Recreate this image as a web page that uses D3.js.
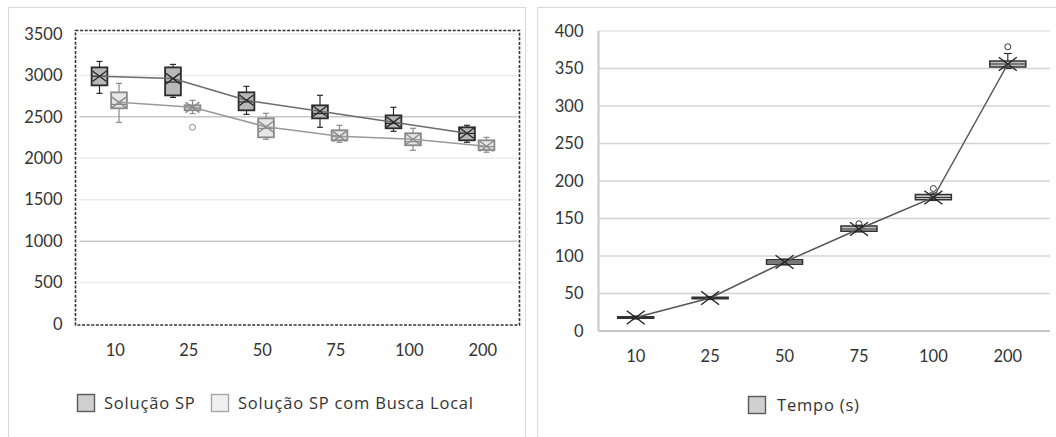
<!DOCTYPE html>
<html><head><meta charset="utf-8">
<script src="https://cdn.jsdelivr.net/npm/d3@7"></script>
<style>
body{margin:0;background:#fff;}
svg text{font-family:Lato,"Open Sans",sans-serif;fill:#333;}
svg text.leg{font-family:"Open Sans",Lato,sans-serif;letter-spacing:0.8px;}
</style></head>
<body><svg id="c" width="1056" height="437"></svg>
<script>
const categories = ["10","25","50","75","100","200"];
const leftTicks = [0,500,1000,1500,2000,2500,3000,3500];
const rightTicks = [0,50,100,150,200,250,300,350,400];
const seriesNames = ["Solução SP","Solução SP com Busca Local"];
const tempoName = "Tempo (s)";

// Solução SP
const spMin    = [2784,2735,2530,2374,2325,2193];
const spQ1     = [2880,2759,2579,2482,2362,2217];
const spMedian = [2990,2920,2680,2540,2420,2300];
const spQ3     = [3097,3097,2796,2639,2518,2374];
const spMax    = [3169,3133,2868,2760,2615,2398];
const spMean   = [2990,2962,2700,2567,2436,2302];
const spOut    = [[],[],[],[],[],[]];

// Solução SP com Busca Local
const blMin    = [2434,2540,2229,2193,2097,2073];
const blQ1     = [2603,2580,2253,2217,2157,2100];
const blMedian = [2650,2610,2360,2260,2200,2140];
const blQ3     = [2796,2640,2482,2338,2302,2217];
const blMax    = [2904,2700,2543,2398,2362,2253];
const blMean   = [2675,2615,2380,2265,2230,2145];
const blOut    = [[],[2374],[],[],[],[]];

// Tempo (s)
const tMin    = [16,42,88,132,174,350];
const tQ1     = [17,43,89,133,175,352];
const tMedian = [18,44,92,136,178,356];
const tQ3     = [19,45,95,140,182,360];
const tMax    = [20,46,96,141,184,370];
const tMean   = [18,44,92,136,178,356];
const tOut    = [[],[],[],[143],[190],[379]];

const svg = d3.select("#c");
svg.append("rect").attr("width",1056).attr("height",437).attr("fill","#fff");

svg.append("rect").attr("x",8.5).attr("y",7.5).attr("width",517).attr("height",440)
  .attr("fill","none").attr("stroke","#d9d9d9");
svg.append("rect").attr("x",537.5).attr("y",7.5).attr("width",530).attr("height",440)
  .attr("fill","none").attr("stroke","#d9d9d9");

function build(sr, ser){ return categories.map((c,i)=>({cat:c,min:sr[0][i],q1:sr[1][i],med:sr[2][i],q3:sr[3][i],max:sr[4][i],mean:sr[5][i],out:sr[6][i],ser})); }

function drawBoxes(g, x, y, data, off, bw, st){
  const gg = g.append("g");
  data.forEach(d=>{
    const cx = x(d.cat)+x.bandwidth()/2+off;
    gg.append("line").attr("x1",cx).attr("x2",cx).attr("y1",y(d.max)).attr("y2",y(d.q3)).attr("stroke",st.stroke).attr("stroke-width",1.2);
    gg.append("line").attr("x1",cx).attr("x2",cx).attr("y1",y(d.q1)).attr("y2",y(d.min)).attr("stroke",st.stroke).attr("stroke-width",1.2);
    [d.max,d.min].forEach(v=>gg.append("line").attr("x1",cx-st.cap).attr("x2",cx+st.cap).attr("y1",y(v)).attr("y2",y(v)).attr("stroke",st.stroke).attr("stroke-width",1.2));
    gg.append("rect").attr("x",cx-bw/2).attr("width",bw).attr("y",y(d.q3)).attr("height",Math.max(1,y(d.q1)-y(d.q3)))
      .attr("fill",st.fill).attr("stroke",st.stroke).attr("stroke-width",st.sw);
    gg.append("line").attr("x1",cx-bw/2).attr("x2",cx+bw/2).attr("y1",y(d.med)).attr("y2",y(d.med)).attr("stroke",st.stroke).attr("stroke-width",1.2);
    d.out.forEach(v=>gg.append("circle").attr("cx",cx).attr("cy",y(v)).attr("r",3).attr("fill","none").attr("stroke",st.stroke).attr("stroke-width",1));
  });
  return gg;
}
function drawMeans(g, x, y, data, off, st){
  const line = d3.line().x(d=>x(d.cat)+x.bandwidth()/2+off).y(d=>y(d.mean));
  g.append("path").datum(data).attr("d",line).attr("fill","none").attr("stroke",st.line).attr("stroke-width",1.5);
  data.forEach(d=>{
    const cx = x(d.cat)+x.bandwidth()/2+off, cy=y(d.mean), s=st.xs;
    g.append("path").attr("d",`M${cx-s},${cy-s*0.75}L${cx+s},${cy+s*0.75}M${cx-s},${cy+s*0.75}L${cx+s},${cy-s*0.75}`)
      .attr("stroke",st.xstroke).attr("stroke-width",1.4).attr("fill","none");
  });
}
function styleAxis(a){
  a.select(".domain").remove();
  a.selectAll("text").style("font-size","16.5px").style("font-family","Lato").attr("fill","#333");
}

// ---------- LEFT CHART ----------
{
  const L=75.5, R=519.5, T=30.5, B=325;
  const x = d3.scaleBand().domain(categories).range([L+3,R]);
  const y = d3.scaleLinear().domain([0,3500]).range([B-1,T+3.5]);
  const g = svg.append("g");
  g.append("g").selectAll("line").data(leftTicks.filter(t=>t>0)).join("line")
    .attr("x1",L+4).attr("x2",R-2).attr("y1",d=>y(d)).attr("y2",d=>y(d))
    .attr("stroke",d=>(d===2500||d===1000)?"#c8c8c8":"#ececec").attr("stroke-width",1.5);
  styleAxis(g.append("g").attr("transform",`translate(${L},0)`)
    .call(d3.axisLeft(y).tickValues(leftTicks).tickSize(0).tickPadding(13).tickFormat(d3.format("d"))));
  styleAxis(g.append("g").attr("transform",`translate(0,${B})`)
    .call(d3.axisBottom(x).tickSize(0).tickPadding(19)));

  const spData = build([spMin,spQ1,spMedian,spQ3,spMax,spMean,spOut],0);
  const blData = build([blMin,blQ1,blMedian,blQ3,blMax,blMean,blOut],1);
  const inner = d3.scaleBand().domain(seriesNames).range([-26,14]).padding(0.05);
  const offSP = inner(seriesNames[0])+inner.bandwidth()/2;
  const offBL = inner(seriesNames[1])+inner.bandwidth()/2;
  const bw = inner.bandwidth()*0.85;
  const stSP = {fill:"#b8b8b8",stroke:"#2b2b2b",sw:1.8,cap:3,line:"#6b6b6b",xstroke:"#2b2b2b",xs:7};
  const stBL = {fill:"#e6e6e6",stroke:"#8a8a8a",sw:1.8,cap:3,line:"#9a9a9a",xstroke:"#8a8a8a",xs:7};
  drawBoxes(g,x,y,blData,offBL,bw,stBL);
  drawMeans(g,x,y,blData,offBL,stBL);
  drawBoxes(g,x,y,spData,offSP,bw,stSP);
  drawMeans(g,x,y,spData,offSP,stSP);

  g.append("rect").attr("x",L).attr("y",T).attr("width",R-L).attr("height",B-T)
    .attr("fill","none").attr("stroke","#333").attr("stroke-width",1.6).attr("stroke-dasharray","3,1.6");

  const items = [{n:seriesNames[0],x:77,fill:"#cfcfcf",stroke:"#595959"},{n:seriesNames[1],x:211,fill:"#f0f0f0",stroke:"#a6a6a6"}];
  items.forEach(it=>{
    g.append("rect").attr("x",it.x+0.5).attr("y",394.5).attr("width",17).attr("height",17).attr("fill",it.fill).attr("stroke",it.stroke).attr("stroke-width",1.4);
    g.append("text").attr("class","leg").attr("x",it.x+27).attr("y",403).attr("dy","0.35em").style("font-size","16.5px").text(it.n);
  });
}

// ---------- RIGHT CHART ----------
{
  const L=598.5, R=1045, T=31, B=331;
  const x = d3.scaleBand().domain(categories).range([L,R]);
  const y = d3.scaleLinear().domain([0,400]).range([B,T]);
  const g = svg.append("g");
  g.append("g").selectAll("line").data(rightTicks.filter(t=>t>0)).join("line")
    .attr("x1",L).attr("x2",1050).attr("y1",d=>y(d)).attr("y2",d=>y(d))
    .attr("stroke",d=>d===400?"#e4e4e4":"#d4d4d4").attr("stroke-width",1.5);
  g.append("line").attr("x1",L).attr("x2",L).attr("y1",T).attr("y2",B).attr("stroke","#c8c8c8").attr("stroke-width",2);
  g.append("line").attr("x1",L).attr("x2",1050).attr("y1",B).attr("y2",B).attr("stroke","#c8c8c8").attr("stroke-width",2);
  styleAxis(g.append("g").attr("transform",`translate(${L},0)`)
    .call(d3.axisLeft(y).tickValues(rightTicks).tickSize(0).tickPadding(15)));
  styleAxis(g.append("g").attr("transform",`translate(0,${B})`)
    .call(d3.axisBottom(x).tickSize(0).tickPadding(19)));

  const tData = build([tMin,tQ1,tMedian,tQ3,tMax,tMean,tOut],0);
  const st = {fill:"#bfbfbf",stroke:"#333",sw:1.5,cap:4,line:"#555",xstroke:"#222",xs:9};
  drawBoxes(g,x,y,tData,0,36,st);
  drawMeans(g,x,y,tData,0,st);

  g.append("rect").attr("x",748.5).attr("y",396.5).attr("width",17).attr("height",17).attr("fill","#cfcfcf").attr("stroke","#595959").attr("stroke-width",1.4);
  g.append("text").attr("class","leg").attr("x",777).attr("y",405).attr("dy","0.35em").style("font-size","16.5px").text(tempoName);
}
</script></body></html>
